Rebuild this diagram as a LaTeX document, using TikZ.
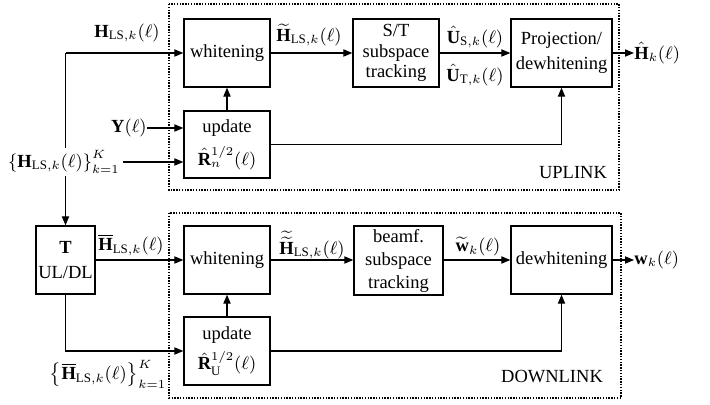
\documentclass[tikz,border=0pt]{standalone}
\usepackage{fontspec}
\setmainfont{Liberation Serif}
\setmathrm{Liberation Serif}
\usetikzlibrary{arrows.meta}
\newcommand{\fsz}[1]{\fontsize{9.25}{#1}\selectfont}
\tikzset{
  blk/.style={draw, line width=0.65pt, minimum width=43pt, minimum height=34pt, inner sep=0pt, align=center, font=\fsz{12.5pt}},
  arr/.style={-{Triangle[length=4.5pt,width=3.6pt]}, line width=0.6pt},
  lnk/.style={line width=0.6pt},
  dotbox/.style={line width=0.9pt, dash pattern=on 0.7pt off 0.7pt},
  lbl/.style={inner sep=0pt, font=\fsz{11pt}},
}
\begin{document}
\begin{tikzpicture}[x=0.5pt,y=-0.5pt]
\useasboundingbox (0,0) rectangle (710,405);
% dotted frames
\draw[dotbox] (169,4) rectangle (619,190);
\draw[dotbox] (169,213) rectangle (621,398);
% blocks
\node[blk] (wU) at (227,53) {whitening};
\node[blk, minimum height=33.5pt, font=\fsz{16.5pt}] (uU) at (227,144.5) {update\\$\hat{\mathbf R}_n^{1/2}(\ell)$};
\node[blk, font=\fsz{10.25pt}] (stU) at (396,53) {S/T\\subspace\\tracking};
\node[blk, minimum width=50.5pt] (pU) at (561.5,53) {Projection/\\dewhitening};
\node[blk, minimum width=29.5pt] (T) at (65.5,260) {\textbf{T}\\UL/DL};
\node[blk] (wD) at (227,260) {whitening};
\node[blk, font=\fsz{15pt}] (uD) at (227,351) {update\\$\hat{\mathbf R}_{\mathrm U}^{1/2}(\ell)$};
\node[blk, minimum width=44.5pt, minimum height=34.5pt, font=\fsz{11.5pt}] (bD) at (398.5,260.5) {beamf.\\subspace\\tracking};
\node[blk, minimum width=50.5pt] (dD) at (561.5,260) {dewhitening};
% labels
\node[lbl] (hU) at (127,33) {$\mathbf H_{\mathrm{LS},k}(\ell)$};
\node[lbl] (htU) at (309,35) {$\widetilde{\mathbf H}_{\mathrm{LS},k}(\ell)$};
\node[lbl] (usU) at (475,37) {$\hat{\mathbf U}_{\mathrm{S},k}(\ell)$};
\node[lbl] (utU) at (475,75) {$\hat{\mathbf U}_{\mathrm{T},k}(\ell)$};
\node[lbl, anchor=west] (outU) at (634,53) {$\hat{\mathbf H}_k(\ell)$};
\node[lbl, anchor=east] (Y) at (147,128) {$\mathbf Y(\ell)$};
\node[lbl] (ul) at (573,173) {UPLINK};
\node[lbl] (hbD) at (131,245) {$\overline{\mathbf H}_{\mathrm{LS},k}(\ell)$};
\node[lbl] (httD) at (312,245) {$\widetilde{\widetilde{\mathbf H}}_{\mathrm{LS},k}(\ell)$};
\node[lbl] (wtD) at (478,247) {$\widetilde{\mathbf w}_k(\ell)$};
\node[lbl, anchor=west] (outD) at (634,260) {$\mathbf w_k(\ell)$};
\node[lbl] (hbset) at (108,374) {$\left\{\overline{\mathbf H}_{\mathrm{LS},k}(\ell)\right\}_{k=1}^K$};
\node[lbl] (dl) at (552,377) {DOWNLINK};
% uplink connectors
\coordinate (c1) at (T.north |- wU.west);
\draw[arr] (c1) -- (T.north);
\draw[arr] (c1) -- (wU);
\node[lbl, fill=white, inner sep=1.5pt] (hset) at (64,162) {$\left\{\mathbf H_{\mathrm{LS},k}(\ell)\right\}_{k=1}^K$};
\draw[arr] (hset.east) -- (hset.east -| uU.west);
\draw[arr] (Y.east) -- (Y.east -| uU.west);
\draw[arr] (uU) -- (wU);
\draw[arr] (wU) -- (stU);
\draw[arr] (stU) -- (pU);
\draw[arr] (pU) -- (outU.west);
\draw[arr] (uU.east) -| (pU.south);
% downlink connectors
\draw[arr] (T) -- (wD);
\draw[arr] (T.south) |- (uD.west);
\draw[arr] (uD) -- (wD);
\draw[arr] (wD.east) -- (wD.east -| bD.west);
\draw[arr] (dD.west -| bD.east) -- (dD.west);
\draw[arr] (dD) -- (outD.west);
\draw[arr] (uD.east) -| (dD.south);
\end{tikzpicture}
\end{document}
